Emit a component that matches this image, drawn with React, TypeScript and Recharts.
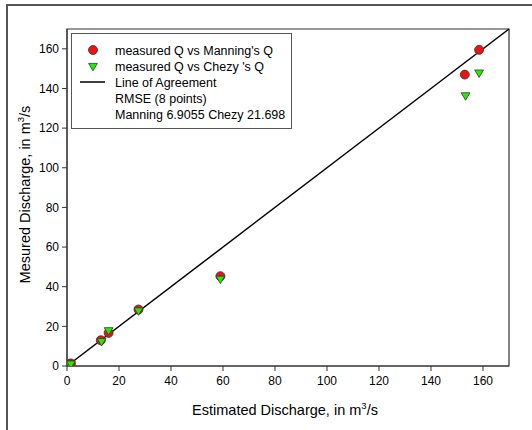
import React from 'react';
import { ScatterChart, Scatter, XAxis, YAxis, ReferenceLine, ReferenceArea } from 'recharts';

const FONT = '"Liberation Sans", Arial, Helvetica, sans-serif';

// Manning: measured Q vs Manning's Q
const manningX = [1, 1.5, 13, 16, 27.5, 59, 153, 158.5];
const manningY = [1, 1.3, 13, 16.7, 28.5, 45.3, 147, 159.5];
// Chezy: measured Q vs Chezy's Q
const chezyX = [1, 1.5, 13.3, 16, 27.5, 59, 153.3, 158.5];
const chezyY = [1, 1.2, 12.5, 18, 28, 44, 136.5, 148];
// Line of agreement endpoints
const agreementX = [0, 170];
const agreementY = [0, 170];

const xTicks = [0, 20, 40, 60, 80, 100, 120, 140, 160];
const yTicks = [0, 20, 40, 60, 80, 100, 120, 140, 160];
const domainMax = 170;

const legendLabels = [
  "measured Q vs Manning's Q",
  "measured Q vs Chezy 's Q",
  'Line of Agreement',
  'RMSE (8 points)',
  'Manning 6.9055 Chezy 21.698',
];

const manningData = manningX.map((x, i) => ({ x, y: manningY[i] }));
const chezyData = chezyX.map((x, i) => ({ x, y: chezyY[i] }));
const segment = agreementX.map((x, i) => ({ x, y: agreementY[i] }));

const RED = '#ee1111';
const GREEN = '#22ee00';

const CircleShape = (props: any) => {
  const { cx, cy } = props;
  return <circle cx={cx} cy={cy} r={4.5} fill={RED} stroke="#333" strokeWidth={0.8} />;
};

const TriShape = (props: any) => {
  const { cx, cy } = props;
  const s = 4.4;
  const pts = `${cx - s},${cy - s * 0.6} ${cx + s},${cy - s * 0.6} ${cx},${cy + s * 1.1}`;
  return <polygon points={pts} fill={GREEN} stroke="#333" strokeWidth={0.8} />;
};

const XLabel = (props: any) => {
  const { viewBox } = props;
  const cx = viewBox.x + viewBox.width / 2 - 3;
  return (
    <text x={cx} y={415} textAnchor="middle" fontFamily={FONT} fontSize={14.5} fill="#000">
      Estimated Discharge, in m
      <tspan dy={-6} fontSize={9.5}>3</tspan>
      <tspan dy={6}>/s</tspan>
    </text>
  );
};

const YLabel = (props: any) => {
  const { viewBox } = props;
  const cx = 30;
  const cy = viewBox.y + viewBox.height / 2 - 3;
  return (
    <text
      x={cx}
      y={cy}
      transform={`rotate(-90 ${cx} ${cy})`}
      textAnchor="middle"
      fontFamily={FONT}
      fontSize={14.5}
      fill="#000"
    >
      Mesured Discharge, in m
      <tspan dy={-6} fontSize={9.5}>3</tspan>
      <tspan dy={6}>/s</tspan>
    </text>
  );
};

const LegendBox = () => {
  const rowH = 16;
  return (
    <div
      style={{
        position: 'absolute',
        left: 71,
        top: 33,
        width: 219,
        height: 94,
        border: '1.5px solid #555',
        background: '#fff',
      }}
    >
      <svg width={219} height={94} style={{ position: 'absolute', left: 0, top: 0 }}>
        <circle cx={21} cy={16} r={4.5} fill={RED} stroke="#333" strokeWidth={0.8} />
        <polygon
          points={`${21 - 4.4},${32 - 2.6} ${21 + 4.4},${32 - 2.6} ${21},${32 + 4.8}`}
          fill={GREEN}
          stroke="#333"
          strokeWidth={0.8}
        />
        <line x1={8} y1={48} x2={33} y2={48} stroke="#000" strokeWidth={1.5} />
        {legendLabels.map((t, i) => (
          <text key={i} x={43} y={16 + i * rowH + 4.5} fontFamily={FONT} fontSize={12.5} fill="#000">
            {t}
          </text>
        ))}
      </svg>
    </div>
  );
};

export default function App() {
  return (
    <div
      style={{
        position: 'relative',
        width: 532,
        height: 430,
        marginLeft: -8,
        marginTop: -8,
        marginBottom: -8,
        background: '#fff',
      }}
    >
      <ScatterChart width={532} height={430} margin={{ top: 29, right: 23, bottom: 24, left: 0 }}>
        <XAxis
          type="number"
          dataKey="x"
          domain={[0, domainMax]}
          ticks={xTicks}
          allowDataOverflow
          height={40}
          tickSize={5}
          tickMargin={5}
          stroke="#333"
          tick={{ fill: '#000', fontSize: 12, fontFamily: FONT }}
          label={<XLabel />}
        />
        <YAxis
          type="number"
          dataKey="y"
          domain={[0, domainMax]}
          ticks={yTicks}
          allowDataOverflow
          width={67}
          tickSize={5}
          tickMargin={3}
          stroke="#333"
          tick={{ fill: '#000', fontSize: 12, fontFamily: FONT }}
          label={<YLabel />}
        />
        <ReferenceArea
          x1={0}
          x2={domainMax}
          y1={0}
          y2={domainMax}
          fill="none"
          fillOpacity={0}
          stroke="#333"
          strokeWidth={1.2}
        />
        <ReferenceLine segment={segment} stroke="#000" strokeWidth={1.5} />
        <Scatter data={manningData} shape={<CircleShape />} isAnimationActive={false} />
        <Scatter data={chezyData} shape={<TriShape />} isAnimationActive={false} />
      </ScatterChart>
      <LegendBox />
      <svg
        width={532}
        height={430}
        style={{ position: 'fixed', left: 0, top: 0, pointerEvents: 'none', zIndex: 10 }}
      >
        <line x1={7} y1={4} x2={7} y2={430} stroke="#555" strokeWidth={2} />
        <line x1={6} y1={5} x2={532} y2={5} stroke="#555" strokeWidth={2} />
      </svg>
    </div>
  );
}
